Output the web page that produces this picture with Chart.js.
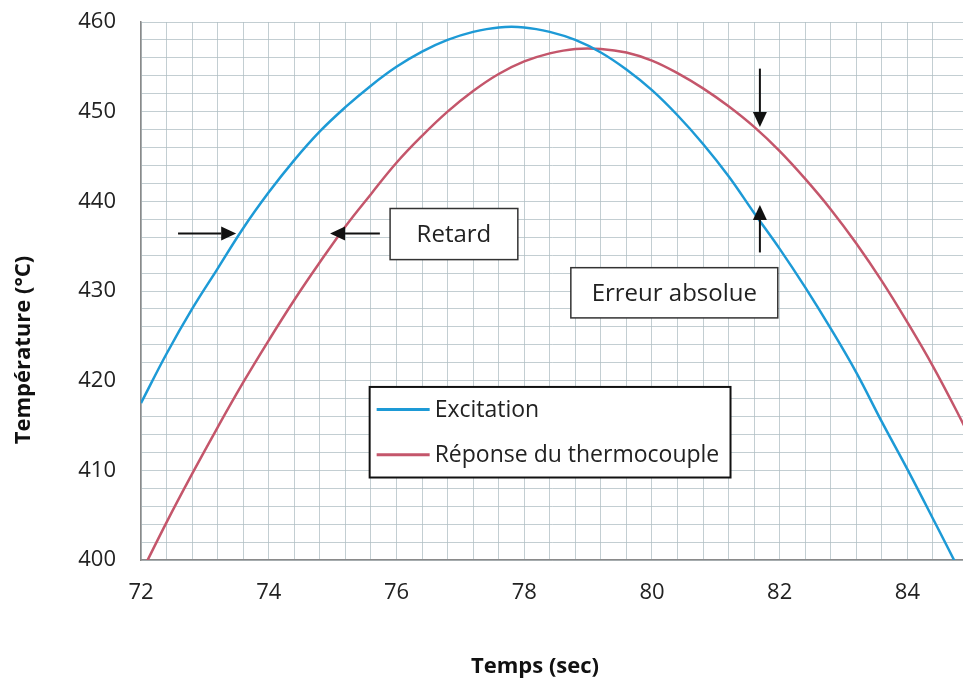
<!DOCTYPE html>
<html lang="fr">
<head>
<meta charset="utf-8">
<title>Excitation et réponse du thermocouple</title>
<script src="https://cdn.jsdelivr.net/npm/chart.js@4.4.1/dist/chart.umd.min.js"></script>
<style>
    html, body { margin: 0; padding: 0; background: #fff; }
    #wrap { width: 963px; height: 685px; }
</style>
</head>
<body>
<div id="wrap"><canvas id="graphique" width="963" height="685"></canvas></div>
<script>
// temps (s) et températures (°C)
const temps = [72.0, 72.4, 72.8, 73.2, 73.6, 74.0, 74.4, 74.8, 75.2, 75.6, 76.0, 76.4, 76.8,
    77.2, 77.6, 78.0, 78.4, 78.8, 79.2, 79.6, 80.0, 80.4, 80.8, 81.2, 81.6, 82.0, 82.4, 82.8,
    83.2, 83.6, 84.0, 84.4, 84.8, 85.2];
const excitation = [417.5, 423.0, 428.0, 432.5, 437.0, 441.0, 444.6, 447.8, 450.5, 452.9, 455.0,
    456.7, 458.0, 458.9, 459.4, 459.4, 458.9, 458.0, 456.6, 454.7, 452.4, 449.6, 446.4, 442.8,
    438.7, 434.7, 430.4, 425.8, 420.9, 415.4, 410.1, 404.6, 399.0, 393.2];
const reponse = [398.5, 404.2, 409.6, 414.8, 419.8, 424.5, 429.0, 433.2, 437.2, 440.8, 444.3,
    447.3, 450.0, 452.3, 454.2, 455.6, 456.5, 457.0, 457.0, 456.6, 455.7, 454.3, 452.6, 450.6,
    448.3, 445.6, 442.5, 439.1, 435.3, 431.1, 426.5, 421.6, 416.2, 410.5];

const seriesLabels = ['Excitation', 'Réponse du thermocouple'];
const seriesColors = ['#1d9ad6', '#c4566b'];
const xTickLabels = [72, 74, 76, 78, 80, 82, 84];
const yTickLabels = [400, 410, 420, 430, 440, 450, 460];

// annotations (en coordonnées du graphique)
const boites = [
    { texte: 'Retard', x1: 75.90, x2: 77.90, y1: 439.2, y2: 433.5 },
    { texte: 'Erreur absolue', x1: 78.73, x2: 81.97, y1: 432.6, y2: 427.0 }
];
const fleches = [
    { x1: 72.58, y1: 436.4, x2: 73.49, y2: 436.4 },
    { x1: 75.74, y1: 436.4, x2: 74.96, y2: 436.4 },
    { x1: 81.69, y1: 454.8, x2: 81.69, y2: 448.3 },
    { x1: 81.69, y1: 434.3, x2: 81.69, y2: 439.6 }
];
const boiteLegende = { x1: 75.58, x2: 81.23, y1: 419.3, y2: 409.2 };

const police = '"Open Sans", "Liberation Sans", sans-serif';

function versPoints(xs, ys) {
    return xs.map((x, i) => ({ x: x, y: ys[i] }));
}

function estEntier(v, liste) {
    return Math.abs(v - Math.round(v)) < 1e-6 && liste.includes(Math.round(v));
}

function dessinerFleche(ctx, x1, y1, x2, y2) {
    const ang = Math.atan2(y2 - y1, x2 - x1);
    const long = 15, larg = 7;
    const bx = x2 - long * Math.cos(ang), by = y2 - long * Math.sin(ang);
    ctx.beginPath();
    ctx.moveTo(x1, y1);
    ctx.lineTo(bx, by);
    ctx.stroke();
    ctx.beginPath();
    ctx.moveTo(x2, y2);
    ctx.lineTo(bx + larg * Math.sin(ang), by - larg * Math.cos(ang));
    ctx.lineTo(bx - larg * Math.sin(ang), by + larg * Math.cos(ang));
    ctx.closePath();
    ctx.fill();
}

const annotationsPlugin = {
    id: 'annotations',
    afterDatasetsDraw(chart) {
        const ctx = chart.ctx;
        const sx = chart.scales.x, sy = chart.scales.y;
        ctx.save();

        // flèches
        ctx.strokeStyle = '#111';
        ctx.fillStyle = '#111';
        ctx.lineWidth = 2;
        fleches.forEach(f => {
            dessinerFleche(ctx, sx.getPixelForValue(f.x1), sy.getPixelForValue(f.y1),
                sx.getPixelForValue(f.x2), sy.getPixelForValue(f.y2));
        });

        // boîtes de texte
        ctx.font = '24px ' + police;
        ctx.textAlign = 'center';
        ctx.textBaseline = 'middle';
        boites.forEach(b => {
            const l = sx.getPixelForValue(b.x1), r = sx.getPixelForValue(b.x2);
            const t = sy.getPixelForValue(b.y1), bas = sy.getPixelForValue(b.y2);
            ctx.fillStyle = '#fff';
            ctx.fillRect(l, t, r - l, bas - t);
            ctx.strokeStyle = '#333';
            ctx.lineWidth = 1.5;
            ctx.strokeRect(l, t, r - l, bas - t);
            ctx.fillStyle = '#222';
            ctx.fillText(b.texte, (l + r) / 2, (t + bas) / 2 + 1);
        });

        // légende
        const l = sx.getPixelForValue(boiteLegende.x1), r = sx.getPixelForValue(boiteLegende.x2);
        const t = sy.getPixelForValue(boiteLegende.y1), bas = sy.getPixelForValue(boiteLegende.y2);
        ctx.fillStyle = '#fff';
        ctx.fillRect(l, t, r - l, bas - t);
        ctx.strokeStyle = '#111';
        ctx.lineWidth = 2;
        ctx.strokeRect(l, t, r - l, bas - t);
        const hauteur = (bas - t) / seriesLabels.length;
        ctx.font = '23px ' + police;
        ctx.textAlign = 'left';
        seriesLabels.forEach((lab, i) => {
            const y = t + hauteur * (i + 0.5);
            ctx.strokeStyle = seriesColors[i];
            ctx.lineWidth = 3;
            ctx.beginPath();
            ctx.moveTo(l + 7, y);
            ctx.lineTo(l + 60, y);
            ctx.stroke();
            ctx.fillStyle = '#222';
            ctx.fillText(lab, l + 65, y + 1);
        });
        ctx.restore();
    },
    afterDraw(chart) {
        // titres des axes
        const ctx = chart.ctx;
        ctx.save();
        ctx.fillStyle = '#111';
        ctx.font = 'bold 22px ' + police;
        ctx.textAlign = 'center';
        ctx.textBaseline = 'middle';
        ctx.fillText('Temps (sec)', 535, 667);
        ctx.translate(24, 350);
        ctx.rotate(-Math.PI / 2);
        ctx.fillText('Température (°C)', 0, 0);
        ctx.restore();
    }
};

const couleurGrille = 'rgba(175, 190, 195, 0.75)';

new Chart(document.getElementById('graphique'), {
    type: 'line',
    data: {
        datasets: [
            {
                label: seriesLabels[0],
                data: versPoints(temps, excitation),
                borderColor: seriesColors[0],
                borderWidth: 2.5,
                pointRadius: 0,
                tension: 0.4,
                fill: false
            },
            {
                label: seriesLabels[1],
                data: versPoints(temps, reponse),
                borderColor: seriesColors[1],
                borderWidth: 2.5,
                pointRadius: 0,
                tension: 0.4,
                fill: false
            }
        ]
    },
    options: {
        responsive: false,
        animation: false,
        layout: { padding: { top: 22, right: 0, left: 0, bottom: 0 } },
        plugins: {
            legend: { display: false },
            tooltip: { enabled: false }
        },
        scales: {
            x: {
                type: 'linear',
                min: 72,
                max: 84.87,
                afterFit: s => {
                    s.height = 125;
                    s.paddingLeft = 0;
                    s.paddingRight = 0;
                },
                grid: { color: couleurGrille, lineWidth: 1, drawTicks: false },
                border: { display: true, color: '#8a8a8a', width: 1.5 },
                ticks: {
                    stepSize: 0.4,
                    autoSkip: false,
                    maxRotation: 0,
                    padding: 20,
                    color: '#222',
                    font: { family: police, size: 22 },
                    callback: v => estEntier(v, xTickLabels) ? String(Math.round(v)) : ''
                }
            },
            y: {
                min: 400,
                max: 460,
                afterFit: s => {
                    s.width = 141;
                    s.paddingTop = 0;
                    s.paddingBottom = 0;
                },
                grid: { color: couleurGrille, lineWidth: 1, drawTicks: false },
                border: { display: true, color: '#8a8a8a', width: 1.5 },
                ticks: {
                    stepSize: 2,
                    autoSkip: false,
                    padding: 25,
                    color: '#222',
                    font: { family: police, size: 22 },
                    callback: v => estEntier(v, yTickLabels) ? String(Math.round(v)) : ''
                }
            }
        }
    },
    plugins: [annotationsPlugin]
});
</script>
</body>
</html>
